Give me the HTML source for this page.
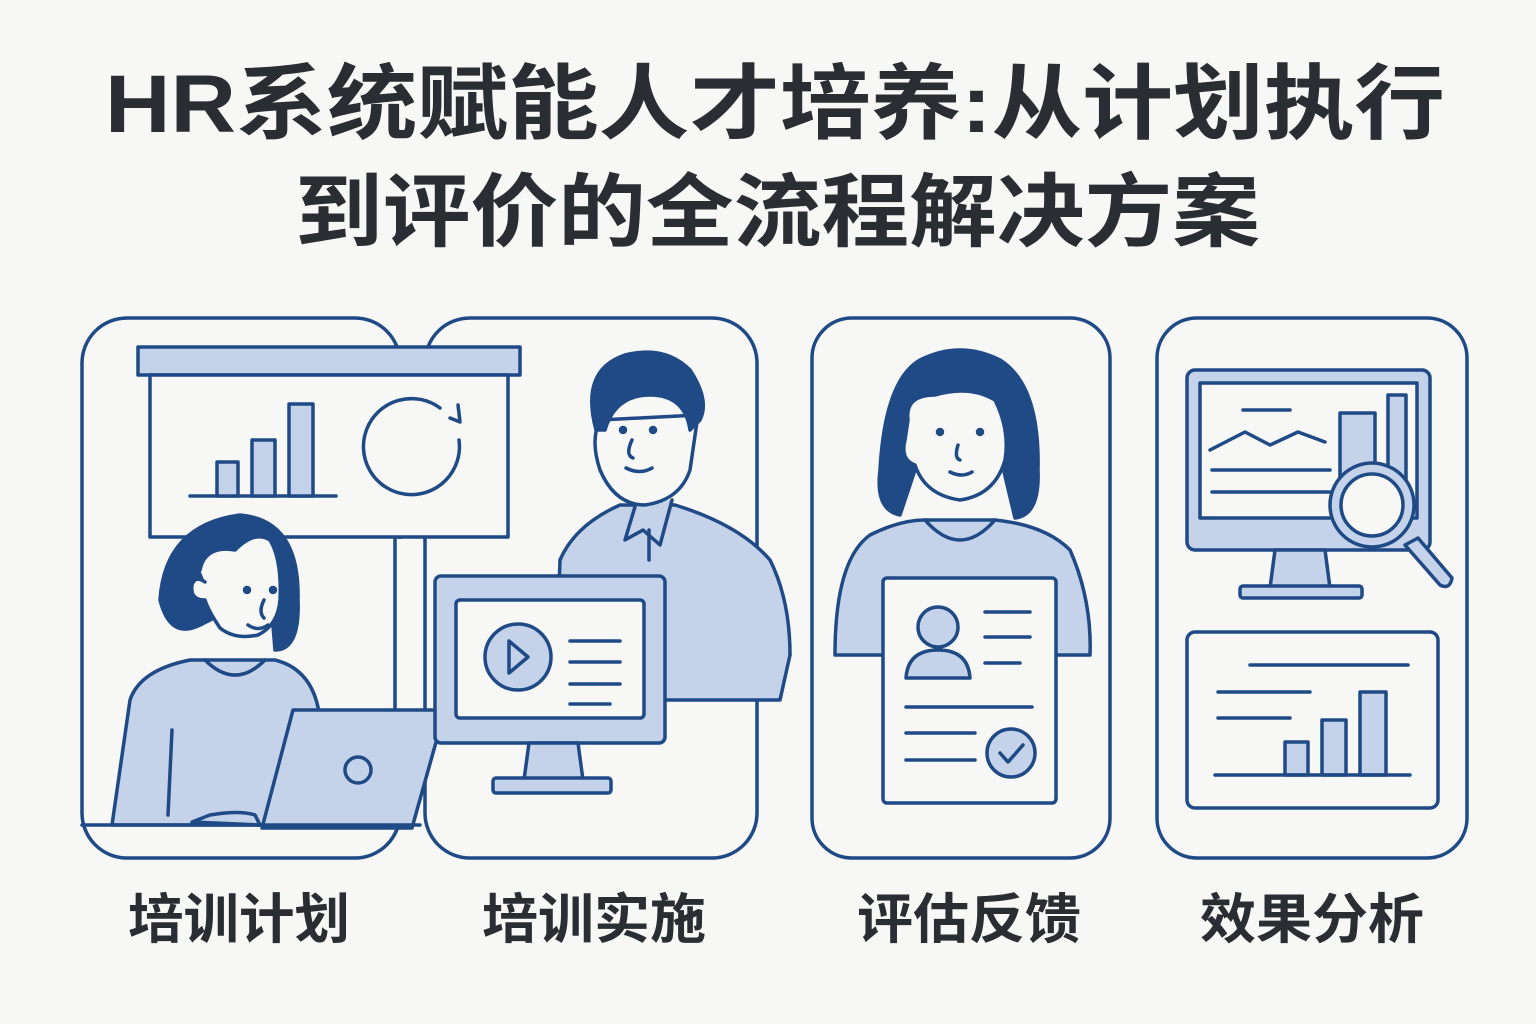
<!DOCTYPE html>
<html><head><meta charset="utf-8"><style>
html,body{margin:0;padding:0;background:#f7f7f5;}
svg{display:block}
text{font-family:"Liberation Sans","Noto Sans CJK SC",sans-serif;font-weight:bold;fill:#2a2e33}
</style></head><body>
<svg width="1536" height="1024" viewBox="0 0 1536 1024" xmlns="http://www.w3.org/2000/svg">
<rect width="1536" height="1024" fill="#f7f7f5"/>
<text x="105" y="132" font-size="82" textLength="1340" lengthAdjust="spacingAndGlyphs">HR系统赋能人才培养:从计划执行</text>
<text x="295" y="240" font-size="80" textLength="965" lengthAdjust="spacingAndGlyphs">到评价的全流程解决方案</text>

<g stroke="#1f4a85" stroke-width="3.5" fill="none" stroke-linejoin="round" stroke-linecap="round">
<rect x="82" y="318" width="318" height="540" rx="45"/>
<rect x="425" y="318" width="332" height="540" rx="45" fill="#f7f7f5"/>
<rect x="812" y="318" width="298" height="540" rx="40"/>
<rect x="1157" y="318" width="310" height="540" rx="40"/>

<rect x="138" y="347" width="382" height="28" fill="#c4d2ea"/>
<rect x="150" y="375" width="358" height="162" fill="#f7f7f5"/>
<line x1="190" y1="496" x2="336" y2="496"/>
<rect x="217" y="462" width="21" height="34" fill="#c4d2ea"/>
<rect x="252" y="440" width="23" height="56" fill="#c4d2ea"/>
<rect x="289" y="404" width="24" height="92" fill="#c4d2ea"/>
<path d="M459 440 A48 48 0 1 1 440 408"/>
<path d="M450 418 L460 422 L458 405"/>
<rect x="384" y="539" width="22" height="290" fill="#f7f7f5" stroke="none"/>
<line x1="395" y1="537" x2="395" y2="720"/>

<path d="M112 825 L130 700 Q140 670 190 660 L275 660 Q315 670 320 720 L320 825 Z" fill="#c4d2ea"/>
<path d="M205 660 Q235 690 265 660" />
<path d="M200 625 Q170 640 160 600 Q165 525 240 515 Q300 520 298 600 Q300 650 275 650 L270 590 Z" fill="#1f4a85"/>
<path d="M200 570 Q205 545 235 550 Q255 530 270 540 Q282 560 280 600 Q278 625 258 635 Q235 640 220 628 Q208 610 205 600 Q190 600 192 585 Q195 575 205 582" fill="#f7f7f5"/>
<circle cx="247" cy="590" r="2.5" fill="#1f4a85"/><circle cx="273" cy="590" r="2.5" fill="#1f4a85"/>
<path d="M264 600 Q258 612 264 618"/>
<path d="M248 625 Q258 632 268 625"/>
<line x1="172" y1="730" x2="168" y2="815"/>
<path d="M192 822 L210 815 Q240 810 255 815 L260 825 Z" fill="#c4d2ea"/>
<path d="M293 710 L445 710 L412 828 L262 828 Z" fill="#c4d2ea"/>
<circle cx="358" cy="770" r="13"/>
<line x1="82" y1="825" x2="420" y2="825"/>

<path d="M555 700 L560 560 Q575 525 620 505 L675 505 Q740 525 770 560 Q790 600 790 655 L780 700 Z" fill="#c4d2ea"/>
<path d="M637 500 L625 540 L643 530 L660 545 L672 500" fill="#c4d2ea"/>
<line x1="649" y1="530" x2="649" y2="560"/>
<path d="M600 420 Q590 440 600 470 Q615 505 645 505 Q680 500 690 470 L698 415 Z" fill="#f7f7f5"/>
<path d="M596 430 Q580 370 625 355 Q665 345 690 370 Q710 400 700 420 L690 430 Q685 395 650 395 Q615 395 605 430 Z" fill="#1f4a85"/>
<circle cx="623" cy="430" r="2.5" fill="#1f4a85"/><circle cx="653" cy="430" r="2.5" fill="#1f4a85"/>
<path d="M632 440 Q625 455 633 458"/>
<path d="M626 468 Q640 475 652 468"/>
<rect x="435" y="576" width="230" height="167" rx="6" fill="#c4d2ea"/>
<rect x="456" y="600" width="188" height="118" rx="4" fill="#f7f7f5"/>
<ellipse cx="518" cy="657" rx="33" ry="33" fill="#c4d2ea"/>
<path d="M509 641 L509 673 L528 657 Z"/>
<line x1="570" y1="641" x2="620" y2="641"/><line x1="570" y1="662" x2="620" y2="662"/><line x1="570" y1="684" x2="620" y2="684"/><line x1="570" y1="704" x2="610" y2="704"/>
<path d="M529 743 L524 780 L583 780 L578 743 Z" fill="#c4d2ea"/>
<rect x="493" y="778" width="118" height="15" rx="3" fill="#c4d2ea"/>

<path d="M835 655 Q835 560 870 535 Q900 520 925 520 L995 520 Q1045 525 1070 550 Q1092 600 1090 655 Z" fill="#c4d2ea"/>
<path d="M925 520 Q960 560 995 520"/>
<path d="M900 515 Q875 510 880 470 Q885 380 920 360 Q960 340 1000 360 Q1040 385 1038 470 Q1040 515 1015 518 L1000 455 L920 455 Z" fill="#1f4a85"/>
<path d="M908 420 Q905 395 935 395 Q970 385 995 400 Q1010 430 1005 460 Q995 495 960 500 Q925 495 915 465 Q900 460 905 440 Z" fill="#f7f7f5"/>
<circle cx="940" cy="432" r="2.5" fill="#1f4a85"/><circle cx="980" cy="432" r="2.5" fill="#1f4a85"/>
<path d="M958 445 Q954 458 960 460"/>
<path d="M950 472 Q962 478 972 472"/>
<rect x="883" y="578" width="173" height="225" rx="4" fill="#f7f7f5"/>
<circle cx="938" cy="627" r="20" fill="#c4d2ea"/>
<path d="M906 678 Q908 650 938 650 Q968 650 970 678 Z" fill="#c4d2ea"/>
<line x1="985" y1="612" x2="1030" y2="612"/><line x1="985" y1="637" x2="1030" y2="637"/><line x1="985" y1="663" x2="1020" y2="663"/>
<line x1="906" y1="707" x2="1032" y2="707"/><line x1="906" y1="733" x2="975" y2="733"/><line x1="906" y1="760" x2="975" y2="760"/>
<circle cx="1011" cy="753" r="24" fill="#c4d2ea"/>
<path d="M1000 753 L1008 762 L1023 745"/>

<rect x="1187" y="370" width="243" height="180" rx="8" fill="#c4d2ea"/>
<rect x="1200" y="383" width="217" height="135" fill="#f7f7f5"/>
<line x1="1243" y1="410" x2="1290" y2="410"/>
<path d="M1210 450 L1245 432 L1270 445 L1298 432 L1325 442"/>
<line x1="1212" y1="470" x2="1330" y2="470"/><line x1="1212" y1="492" x2="1330" y2="492"/>
<rect x="1340" y="413" width="35" height="80" fill="#c4d2ea"/>
<rect x="1388" y="395" width="18" height="98" fill="#c4d2ea"/>
<path d="M1405 545 L1440 585 Q1450 590 1452 578 L1418 538 Z" fill="#c4d2ea"/>
<circle cx="1372" cy="505" r="42" fill="#c4d2ea"/>
<circle cx="1372" cy="505" r="31" fill="#f7f7f5"/>
<path d="M1275 550 L1270 588 L1330 588 L1325 550 Z" fill="#c4d2ea"/>
<rect x="1240" y="586" width="122" height="12" rx="3" fill="#c4d2ea"/>
<rect x="1187" y="632" width="251" height="176" rx="8"/>
<line x1="1250" y1="665" x2="1408" y2="665"/><line x1="1218" y1="692" x2="1310" y2="692"/><line x1="1218" y1="718" x2="1290" y2="718"/>
<rect x="1285" y="742" width="23" height="33" fill="#c4d2ea"/>
<rect x="1322" y="720" width="24" height="55" fill="#c4d2ea"/>
<rect x="1360" y="692" width="26" height="83" fill="#c4d2ea"/>
<line x1="1215" y1="775" x2="1410" y2="775"/>
</g>

<text x="128" y="938" font-size="54" textLength="222" lengthAdjust="spacingAndGlyphs">培训计划</text>
<text x="482" y="938" font-size="54" textLength="224" lengthAdjust="spacingAndGlyphs">培训实施</text>
<text x="857" y="938" font-size="54" textLength="224" lengthAdjust="spacingAndGlyphs">评估反馈</text>
<text x="1200" y="938" font-size="54" textLength="224" lengthAdjust="spacingAndGlyphs">效果分析</text>
</svg>
</body></html>
